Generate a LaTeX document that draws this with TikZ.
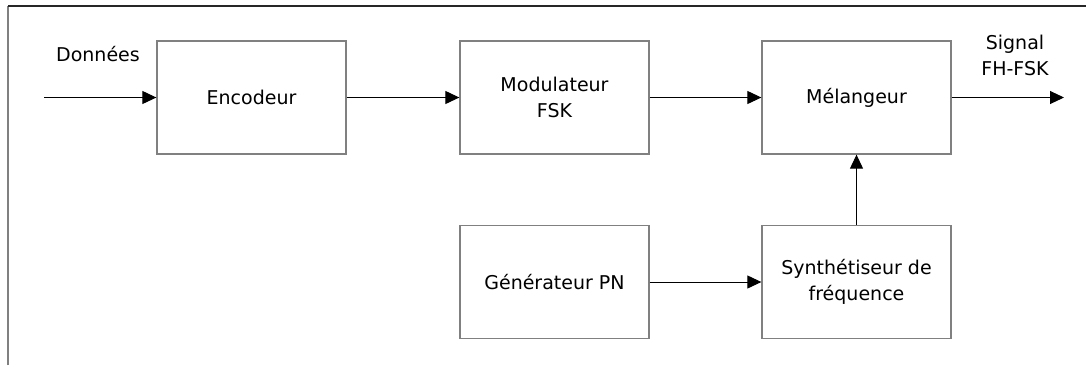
\documentclass[tikz,border=0pt]{standalone}
\usepackage{fontspec}
\setmainfont{DejaVu Sans}
\usetikzlibrary{arrows.meta}
\begin{document}
\begin{tikzpicture}[x=1pt,y=-1pt,
  blk/.style={draw=black!50, line width=1.3pt, minimum width=189pt, minimum height=113pt, inner sep=0pt, align=center, font=\fontsize{19}{26}\selectfont},
  lbl/.style={align=center, font=\fontsize{19}{26}\selectfont, inner sep=0pt},
  conn/.style={line width=1pt, -{Triangle[length=14pt,width=13pt]}}]
\useasboundingbox (0,0) rectangle (1086,365);
\draw[line width=1.3pt, black!50] (8,365) -- (8,6);
\draw[line width=1.3pt, black!85] (8,6) -- (1086,6);
\node[blk] (enc) at (251.5,97.5) {Encodeur};
\node[blk] (mod) at (554.5,97.5) {Modulateur\\FSK};
\node[blk] (mel) at (856.5,97.5) {Mélangeur};
\node[blk] (gen) at (554.5,282) {Générateur PN};
\node[blk] (syn) at (856.5,282) {Synthétiseur de\\fréquence};
\node[lbl] (don) at (98,54) {Données};
\node[lbl] (sig) at (1015,55) {Signal\\FH-FSK};
\coordinate (in) at (44,97.5);
\coordinate (out) at (1064,97.5);
\draw[conn] (in) -- (enc.west);
\draw[conn] (enc.east) -- (mod.west);
\draw[conn] (mod.east) -- (mel.west);
\draw[conn] (mel.east) -- (out);
\draw[conn] (gen.east) -- (syn.west);
\draw[conn] (syn.north) -- (mel.south);
\end{tikzpicture}
\end{document}
